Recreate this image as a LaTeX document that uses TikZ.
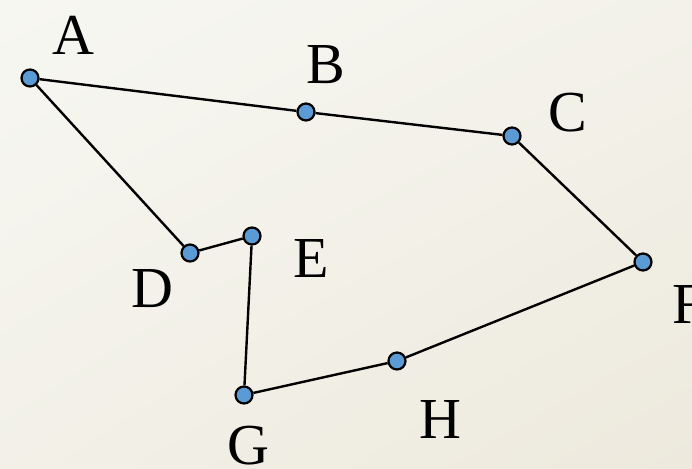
\documentclass[tikz,border=0pt]{standalone}
\usepackage{fontspec}
\setmainfont{Liberation Serif}
\definecolor{dotblue}{RGB}{91, 155, 213}
\definecolor{paperlight}{RGB}{247, 247, 242}
\definecolor{paperdark}{RGB}{237, 233, 221}
\usetikzlibrary{positioning}
\usetikzlibrary{shadings}
\tikzset{
  vertex/.style={circle, draw=black, fill=dotblue, line width=2.2pt,
    minimum size=17pt, inner sep=0},
  edge/.style={line width=2.4pt},
  letter/.style={font=\fontsize{58}{58}\selectfont, inner sep=0}
}

\begin{document}
\begin{tikzpicture}[x=1pt, y=-1pt]
  % paper background
  \shade[upper left=paperlight, upper right=paperlight!60!paperdark,
         lower left=paperlight!50!paperdark, lower right=paperdark]
    (0,0) rectangle (692,468);
  \useasboundingbox (0,0) rectangle (692,468);

  % the corners of the outline
  \node[vertex] (A) at (30,78) {};
  \node[vertex] (B) at (306,112) {};
  \node[vertex] (C) at (512,136) {};
  \node[vertex] (F) at (643,262) {};
  \node[vertex] (H) at (397,361) {};
  \node[vertex] (G) at (244,395) {};
  \node[vertex] (E) at (252,236) {};
  \node[vertex] (D) at (190,253) {};

  \draw[edge] (A) -- (B) -- (C) -- (F) -- (H) -- (G) -- (E) -- (D) -- (A);

  % letters
  \node[letter] (labA) at (73,35) {A};
  \node[letter] (labB) at (326,65) {B};
  \node[letter] (labC) at (568,113) {C};
  \node[letter] (labD) at (152,289) {D};
  \node[letter] (labE) at (311,259) {E};
  \node[letter] (labF) at (689,305) {F};
  \node[letter] (labG) at (248,446) {G};
  \node[letter] (labH) at (440,420) {H};
\end{tikzpicture}
\end{document}
